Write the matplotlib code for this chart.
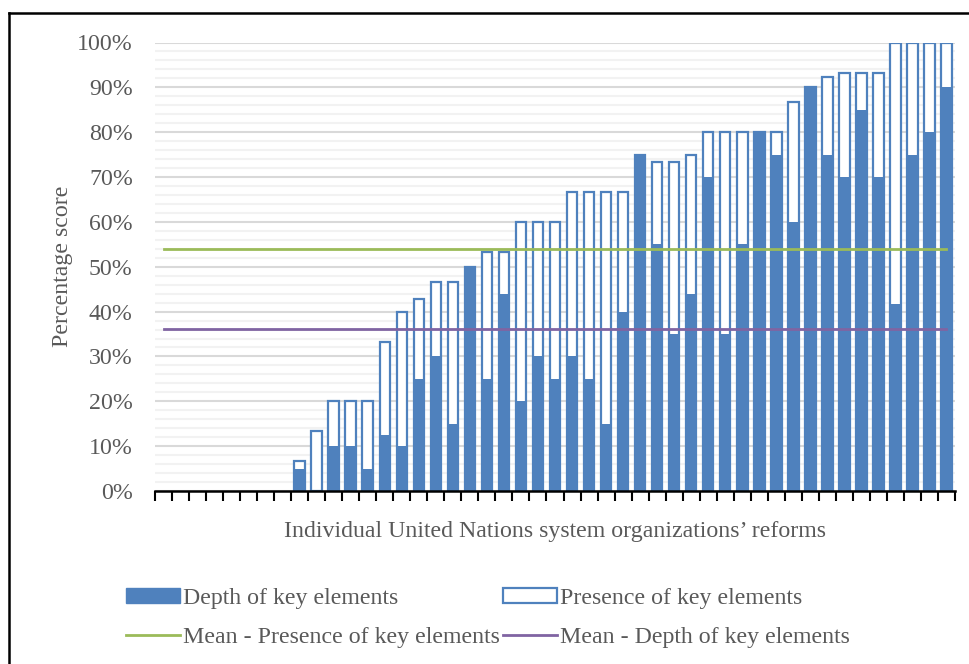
import numpy as np
import matplotlib
matplotlib.use('Agg')
import matplotlib.pyplot as plt
from matplotlib.patches import Patch
from matplotlib.lines import Line2D

# values (percent), 47 organizations
presence = [0, 0, 0, 0, 0, 0, 0, 0,
            6.67, 13.3, 20, 20, 20, 33.3, 40, 42.9, 46.7, 46.7, 50, 53.3, 53.3,
            60, 60, 60, 66.7, 66.7, 66.7, 66.7, 75, 73.3, 73.3, 75,
            80, 80, 80, 80, 80, 86.7, 90, 92.3, 93.3, 93.3, 93.3,
            100, 100, 100, 100]
depth = [0, 0, 0, 0, 0, 0, 0, 0,
         5, 0, 10, 10, 5, 12.5, 10, 25, 30, 15, 50, 25, 44,
         20, 30, 25, 30, 25, 15, 40, 75, 55, 35, 44,
         70, 35, 55, 80, 75, 60, 90, 75, 70, 85, 70,
         41.7, 75, 80, 90]
mean_presence = 54.0
mean_depth = 36.1

blue = '#4F81BD'
green = '#9BBB59'
purple = '#8064A2'
grey_text = '#595959'
fs = 17.2

plt.rcParams['font.family'] = ['Liberation Serif', 'DejaVu Serif']

fig = plt.figure(figsize=(9.69, 6.64), dpi=100)
ax = fig.add_axes([155 / 969, 1 - 491 / 664, 800 / 969, 448.5 / 664])

n = len(presence)
x = np.arange(n)
pres = np.array(presence) / 100
dep = np.array(depth) / 100
hp = pres > 0
hd = dep > 0

ax.bar(x[hp], pres[hp], width=0.62, color='white', edgecolor=blue, linewidth=1.6, zorder=3)
ax.bar(x[hd], dep[hd], width=0.68, color=blue, edgecolor='none', linewidth=0, zorder=4)
ax.plot([x[0], x[-1]], [mean_presence / 100] * 2, color=green, lw=2, zorder=5)
ax.plot([x[0], x[-1]], [mean_depth / 100] * 2, color=purple, lw=2, zorder=5)

ax.set_xlim(-0.5, n - 0.5)
ax.set_ylim(0, 1.0)
ax.set_yticks(np.arange(0, 1.01, 0.1))
ax.set_yticklabels(['%d%%' % v for v in range(0, 101, 10)], color=grey_text, fontsize=fs)
ax.set_yticks(np.arange(0, 1.001, 0.02), minor=True)
ax.grid(axis='y', which='major', color='#D9D9D9', lw=1.5, zorder=0)
ax.grid(axis='y', which='minor', color='#F2F2F2', lw=1.5, zorder=0)
ax.tick_params(axis='y', which='both', length=0, pad=16)

ax.set_xticks(np.arange(-0.5, n, 1.0))
ax.set_xticklabels([])
ax.tick_params(axis='x', direction='out', length=7, width=1.5, color='black')
for s in ['top', 'right', 'left']:
    ax.spines[s].set_visible(False)
ax.spines['bottom'].set_linewidth(1.8)
ax.spines['bottom'].set_zorder(6)

ax.set_ylabel('Percentage score', fontsize=fs, color=grey_text, labelpad=3)
ax.set_xlabel('Individual United Nations system organizations\u2019 reforms',
              fontsize=fs, color=grey_text, labelpad=11)

handles = [Patch(facecolor=blue, edgecolor=blue),
           Line2D([], [], color=green, lw=2),
           Patch(facecolor='white', edgecolor=blue, lw=1.6),
           Line2D([], [], color=purple, lw=2)]
labels = ['Depth of key elements', 'Mean - Presence of key elements',
          'Presence of key elements', 'Mean - Depth of key elements']
leg = fig.legend(handles, labels, ncol=2, loc='center', bbox_to_anchor=(488 / 969, 1 - 618 / 664),
                 frameon=False, fontsize=fs, handlelength=2.25, handleheight=0.6,
                 handletextpad=0.12, columnspacing=0.15, labelspacing=0.75)
for t in leg.get_texts():
    t.set_color(grey_text)

# outer frame (top and left edges visible in the reference)
fig.add_artist(Line2D([9 / 969, 1], [1 - 12.5 / 664] * 2, color='black', lw=1.8, transform=fig.transFigure))
fig.add_artist(Line2D([9 / 969] * 2, [0, 1 - 12.5 / 664], color='black', lw=1.8, transform=fig.transFigure))

fig.savefig('out.png', dpi=100)
